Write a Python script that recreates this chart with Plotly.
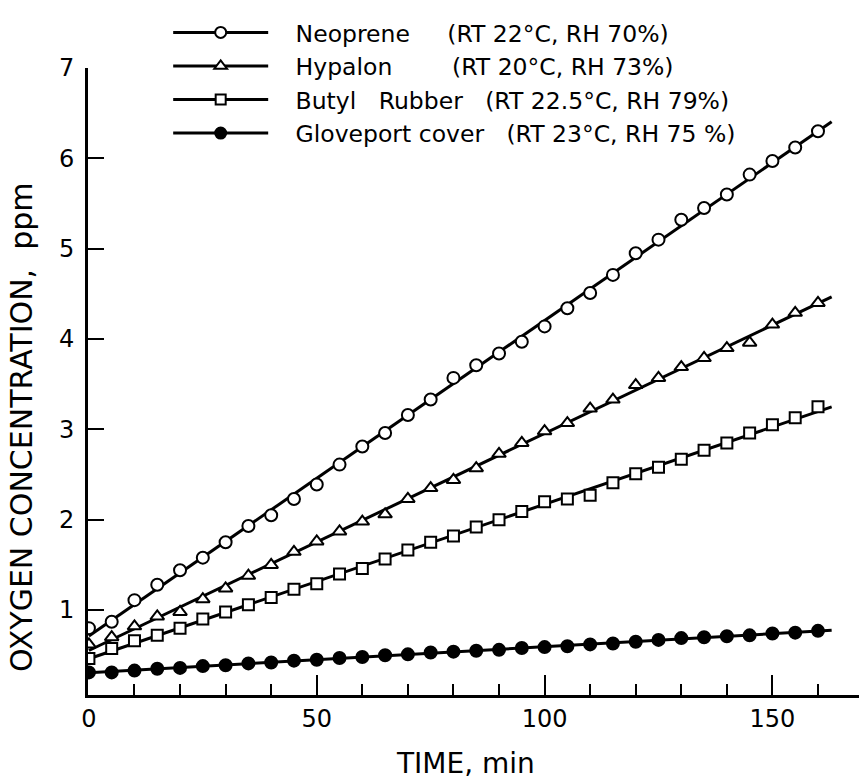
import numpy as np
import plotly.graph_objects as go

# ---- data ----
time_min = [0, 5, 10, 15, 20, 25, 30, 35, 40, 45, 50, 55, 60, 65, 70, 75, 80,
            85, 90, 95, 100, 105, 110, 115, 120, 125, 130, 135, 140, 145, 150, 155, 160]

neoprene = [0.80, 0.87, 1.11, 1.28, 1.44, 1.58, 1.75, 1.93, 2.05, 2.23, 2.39, 2.61,
            2.81, 2.96, 3.16, 3.33, 3.57, 3.71, 3.84, 3.97, 4.14, 4.34, 4.51, 4.71,
            4.95, 5.10, 5.32, 5.45, 5.60, 5.82, 5.97, 6.12, 6.30]

hypalon = [0.62, 0.70, 0.82, 0.93, 0.98, 1.12, 1.24, 1.38, 1.50, 1.645, 1.76, 1.87,
           1.98, 2.06, 2.23, 2.35, 2.44, 2.57, 2.73, 2.85, 2.98, 3.07, 3.23, 3.33,
           3.49, 3.57, 3.69, 3.79, 3.90, 3.96, 4.16, 4.29, 4.40]

butyl = [0.465, 0.575, 0.66, 0.72, 0.80, 0.90, 0.98, 1.06, 1.14, 1.23, 1.29, 1.40,
         1.46, 1.565, 1.665, 1.75, 1.82, 1.92, 2.00, 2.09, 2.20, 2.23, 2.27, 2.41,
         2.51, 2.58, 2.67, 2.77, 2.85, 2.96, 3.05, 3.13, 3.25]

gloveport = [0.31, 0.31, 0.33, 0.35, 0.36, 0.38, 0.39, 0.41, 0.42, 0.44, 0.45, 0.47,
             0.48, 0.50, 0.51, 0.53, 0.54, 0.55, 0.56, 0.58, 0.59, 0.60, 0.62, 0.63,
             0.65, 0.67, 0.69, 0.70, 0.71, 0.72, 0.74, 0.75, 0.77]

NB = "\u00a0"
series_names = ["Neoprene", "Hypalon", "Butyl" + NB * 3 + "Rubber", "Gloveport cover"]
conditions = ["(RT 22°C, RH 70%)", "(RT 20°C, RH 73%)", "(RT 22.5°C, RH 79%)", "(RT 23°C, RH 75 %)"]
name_pad = [5, 8, 3, 3]          # non-breaking spaces between name and conditions
x_tick_vals = [0, 50, 100, 150]
y_tick_vals = [1, 2, 3, 4, 5, 6, 7]
fit_end = 163                    # fitted lines run slightly past the last point

FONT = "DejaVu Sans"

symbols = ["circle", "triangle-up", "square", "circle"]
fills = ["white", "white", "white", "black"]
sizes = [12, 12, 11, 12]
values = [neoprene, hypalon, butyl, gloveport]

fig = go.Figure()
t = np.array(time_min, dtype=float)
for i, vals in enumerate(values):
    slope, icpt = np.polyfit(t, np.array(vals), 1)
    xl = np.array([t[0], fit_end])
    fig.add_trace(go.Scatter(x=xl, y=slope * xl + icpt, mode="lines",
                             line=dict(color="black", width=3), showlegend=False,
                             hoverinfo="skip"))
for i, vals in enumerate(values):
    fig.add_trace(go.Scatter(x=time_min, y=vals, mode="markers",
                             marker=dict(symbol=symbols[i], size=sizes[i], color=fills[i],
                                         line=dict(color="black", width=2)),
                             showlegend=False, name=series_names[i]))
# legend entries
for i in range(4):
    label = NB * 3 + series_names[i] + NB * name_pad[i] + conditions[i]
    fig.add_trace(go.Scatter(x=[None], y=[None], mode="lines+markers", name=label,
                             line=dict(color="black", width=3),
                             marker=dict(symbol=symbols[i], size=sizes[i] - 1, color=fills[i],
                                         line=dict(color="black", width=2))))

fig.update_layout(
    width=859, height=779,
    margin=dict(l=88, r=0, t=68, b=84, autoexpand=False),
    paper_bgcolor="white", plot_bgcolor="white",
    font=dict(family=FONT, color="black", size=24),
    showlegend=True,
    legend=dict(x=0.104, y=1.0915, xanchor="left", yanchor="top",
                bgcolor="rgba(0,0,0,0)", borderwidth=0, itemwidth=95,
                font=dict(family=FONT, size=23.5, color="black"),
                traceorder="normal", itemclick=False),
    xaxis=dict(range=[-0.2, 169], showline=True, linecolor="black", linewidth=3,
               showgrid=False, zeroline=False, tickmode="array", tickvals=x_tick_vals,
               ticks="inside", ticklen=20, tickwidth=2, tickcolor="black",
               ticklabelstandoff=0,
               minor=dict(dtick=10, tick0=0, ticks="inside", ticklen=11, tickwidth=2,
                          tickcolor="black", showgrid=False),
               tickfont=dict(family=FONT, size=24, color="black")),
    yaxis=dict(range=[0.06, 7.0], showline=True, linecolor="black", linewidth=3,
               showgrid=False, zeroline=False, tickmode="array", tickvals=y_tick_vals,
               ticks="inside", ticklen=16, tickwidth=2, tickcolor="black",
               ticklabelstandoff=6,
               tickfont=dict(family=FONT, size=24, color="black")),
    annotations=[
        dict(text="TIME, min", xref="paper", yref="paper", x=0.49, y=-0.109,
             xanchor="center", yanchor="middle", showarrow=False,
             font=dict(family=FONT, size=28, color="black")),
        dict(text="OXYGEN CONCENTRATION,  ppm", xref="paper", yref="paper",
             x=-0.0856, y=0.426, xanchor="center", yanchor="middle", textangle=-90,
             showarrow=False, font=dict(family=FONT, size=30, color="black")),
    ],
)

fig.write_html("out.html", config={"displayModeBar": False},
               post_script="document.body.style.margin='0px';")
